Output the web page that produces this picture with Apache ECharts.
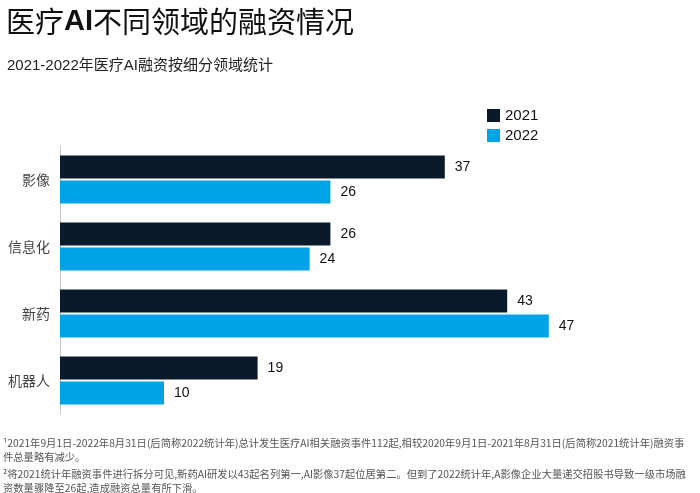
<!DOCTYPE html>
<html><head><meta charset="utf-8">
<script src="https://cdn.jsdelivr.net/npm/echarts@6/dist/echarts.min.js"></script>
<style>html,body{margin:0;padding:0;background:#fff;}#c{width:700px;height:493px;}</style>
</head><body><div id="c"></div>
<script>
var categories = ['影像', '信息化', '新药', '机器人'];
var values2021 = [37, 26, 43, 19];
var values2022 = [26, 24, 47, 10];
var seriesNames = ['2021', '2022'];
var footnotes = [
  '¹2021年9月1日-2022年8月31日(后简称2022统计年)总计发生医疗AI相关融资事件112起,相较2020年9月1日-2021年8月31日(后简称2021统计年)融资事',
  '件总量略有减少。',
  '²将2021统计年融资事件进行拆分可见,新药AI研发以43起名列第一,AI影像37起位居第二。但到了2022统计年,A影像企业大量递交招股书导致一级市场融',
  '资数量骤降至26起,造成融资总量有所下滑。'
];
var cjk = '"Noto Sans CJK SC", "Liberation Sans", sans-serif';
var latcjk = '"Liberation Sans", "Noto Sans CJK SC", sans-serif';
var chart = echarts.init(document.getElementById('c'));
var noteY = [445, 459, 476, 490];
var graphics = footnotes.map(function (t, i) {
  return { type: 'text', left: 3, top: noteY[i] - 7, style: { text: t, font: '10.3px ' + cjk, fill: '#555' } };
});
chart.setOption({
  backgroundColor: '#fff',
  animation: false,
  title: [{
    left: 1, top: 2,
    text: '{a|医疗}{b|AI}{a|不同领域的融资情况}',
    textStyle: { fontWeight: 'normal', rich: {
      a: { fontFamily: cjk, fontSize: 29, fontWeight: 'normal', color: '#111' },
      b: { fontFamily: '"Liberation Sans", sans-serif', fontWeight: 'bold', fontSize: 29, color: '#111' }
    } }
  }, {
    left: 2, top: 53,
    text: '2021-2022年医疗AI融资按细分领域统计',
    textStyle: { fontFamily: latcjk, fontSize: 15, fontWeight: 'normal', color: '#222' }
  }],
  legend: {
    orient: 'vertical', left: 482, top: 103,
    itemWidth: 13, itemHeight: 13, itemGap: 5,
    icon: 'rect',
    data: seriesNames,
    textStyle: { fontFamily: '"Liberation Sans", sans-serif', fontSize: 15, color: '#111' }
  },
  grid: { left: 60, top: 146, width: 520, height: 268 },
  xAxis: { type: 'value', min: 0, max: 50, show: false },
  yAxis: {
    type: 'category', data: categories, inverse: true,
    axisLine: { show: true, lineStyle: { color: '#c8c8c8', width: 1 } },
    axisTick: { show: false },
    axisLabel: { fontFamily: cjk, fontSize: 14, color: '#444', margin: 10 }
  },
  graphic: graphics,
  series: [{
    name: seriesNames[0], type: 'bar', data: values2021,
    barWidth: 23, barGap: '9%',
    itemStyle: { color: '#0b1a2a' },
    label: { show: true, position: 'right', distance: 10, fontFamily: '"Liberation Sans", sans-serif', fontSize: 14, color: '#111' }
  }, {
    name: seriesNames[1], type: 'bar', data: values2022,
    barWidth: 23,
    itemStyle: { color: '#00a2e8' },
    label: { show: true, position: 'right', distance: 10, fontFamily: '"Liberation Sans", sans-serif', fontSize: 14, color: '#111' }
  }]
});
</script></body></html>
